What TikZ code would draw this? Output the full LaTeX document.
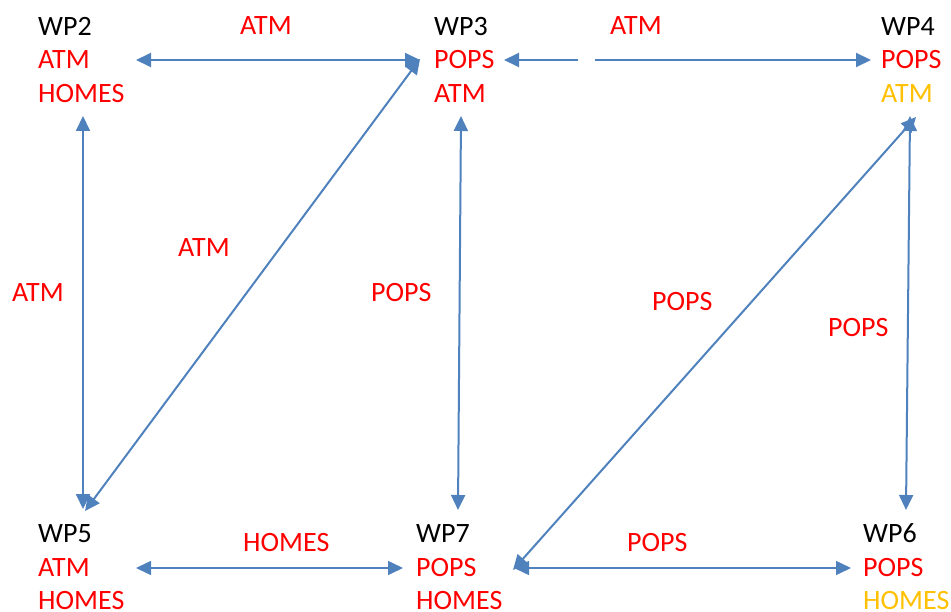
\documentclass[tikz,border=0pt]{standalone}
\usepackage{fontspec}
\setmainfont{Carlito}
\usetikzlibrary{arrows.meta}
\definecolor{wpred}{HTML}{FF0000}
\definecolor{wporange}{HTML}{FFC000}
\definecolor{linkblue}{HTML}{4F81BD}
\tikzset{
  txt/.style={anchor=base west, inner sep=0pt, font=\fontsize{28}{33}\selectfont},
  wp/.style={txt, text=black},
  item/.style={txt, text=wpred},
  itemo/.style={txt, text=wporange},
  lbl/.style={txt, text=wpred},
  link/.style={draw=linkblue, line width=2pt,
    {Triangle[length=15pt,width=14pt,fill=linkblue]}-{Triangle[length=15pt,width=14pt,fill=linkblue]}},
  onelink/.style={draw=linkblue, line width=2pt, -{Triangle[length=15pt,width=14pt,fill=linkblue]}},
}
\begin{document}
\begin{tikzpicture}[x=1pt, y=-1pt]
\useasboundingbox (0,0) rectangle (951,612);

% work packages
\node[wp]   (wp2)  at (38,36)  {WP2};
\node[item] (wp2a) at (38,69)  {ATM};
\node[item] (wp2h) at (38,103) {HOMES};

\node[wp]   (wp3)  at (434,36)  {WP3};
\node[item] (wp3p) at (434,69)  {POPS};
\node[item] (wp3a) at (434,103) {ATM};

\node[wp]    (wp4)  at (881,36)  {WP4};
\node[item]  (wp4p) at (881,69)  {POPS};
\node[itemo] (wp4a) at (881,103) {ATM};

\node[wp]   (wp5)  at (38,542) {WP5};
\node[item] (wp5a) at (38,576) {ATM};
\node[item] (wp5h) at (38,609) {HOMES};

\node[wp]   (wp7)  at (416,542) {WP7};
\node[item] (wp7p) at (416,576) {POPS};
\node[item] (wp7h) at (416,609) {HOMES};

\node[wp]    (wp6)  at (863,542) {WP6};
\node[item]  (wp6p) at (863,576) {POPS};
\node[itemo] (wp6h) at (863,609) {HOMES};

% connector end points
\coordinate (c2r)  at (136,60);
\coordinate (c3l)  at (420,60);
\coordinate (c3r)  at (504,60);
\coordinate (c34a) at (578,60);
\coordinate (c34b) at (595,60);
\coordinate (c4l)  at (871,60);
\coordinate (c2b)  at (83,116);
\coordinate (c5t)  at (83,509);
\coordinate (c5d)  at (85,511);
\coordinate (c3d)  at (420,59);
\coordinate (c3b)  at (461,116);
\coordinate (c7t)  at (458,510);
\coordinate (c4b)  at (910,116);
\coordinate (c6t)  at (906,510);
\coordinate (c4d)  at (916,117);
\coordinate (c7d)  at (513,570);
\coordinate (c5r)  at (136,568);
\coordinate (c7l)  at (403,568);
\coordinate (c7r)  at (514,568);
\coordinate (c6l)  at (851,568);

% links between work packages
\draw[link] (c2r) -- (c3l);
\draw[onelink] (c34a) -- (c3r);
\draw[onelink] (c34b) -- (c4l);
\draw[link] (c2b) -- (c5t);
\draw[link] (c5d) -- (c3d);
\draw[link] (c3b) -- (c7t);
\draw[link] (c4b) -- (c6t);
\draw[link] (c4d) -- (c7d);
\draw[link, line width=1.5pt] (c5r) -- (c7l);
\draw[link, line width=1.5pt] (c7r) -- (c6l);

% link labels
\node[lbl] (l23)  at (240,35)  {ATM};
\node[lbl] (l34)  at (610,35)  {ATM};
\node[lbl] (l25)  at (12,302)  {ATM};
\node[lbl] (l53)  at (178,257) {ATM};
\node[lbl] (l37)  at (371,302) {POPS};
\node[lbl] (l47)  at (652,311) {POPS};
\node[lbl] (l46)  at (828,337) {POPS};
\node[lbl] (l57)  at (243,551) {HOMES};
\node[lbl] (l76)  at (627,551) {POPS};
\end{tikzpicture}
\end{document}
